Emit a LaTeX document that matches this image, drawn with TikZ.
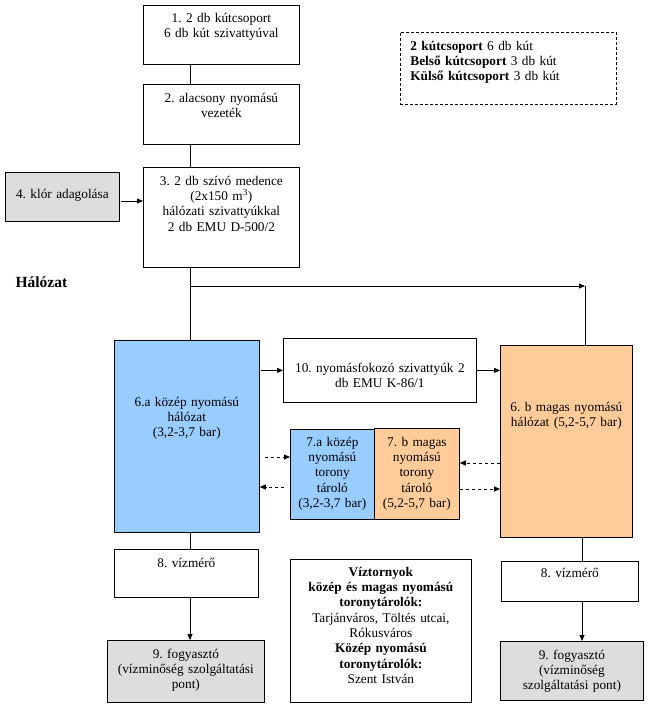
\documentclass[tikz,border=0pt]{standalone}
\usepackage{fontspec}
\setmainfont{Liberation Serif}
\usetikzlibrary{arrows.meta}

\definecolor{kozepkek}{HTML}{99CCFF}
\definecolor{magasnarancs}{HTML}{FFCC99}
\definecolor{fogyszurke}{HTML}{DDDDDD}

\tikzset{
  doboz/.style={draw=black, line width=0.75pt, inner xsep=2pt, inner ysep=0pt, align=center, anchor=north west},
  vonal/.style={color=black!100, line width=0.75pt},
  nyil/.style={vonal, -{Triangle[length=6pt,width=5pt]}},
  szaggatott/.style={nyil, dash pattern=on 3pt off 3pt},
}

\begin{document}
\begin{tikzpicture}[x=1pt, y=-1pt, font=\frenchspacing\fontsize{13.3}{15.3}\selectfont]
                    \useasboundingbox (0,0) rectangle (653,711);

                    \node[doboz, text width=152pt, text height=17pt, text depth=42pt] (b1) at (143,5) {1. 2 db kútcsoport\\6 db kút szivattyúval};
                    \node[doboz, text width=152pt, text height=18pt, text depth=42pt] (b2) at (143,84) {2. alacsony nyomású\\vezeték};
                    \node[doboz, text width=152pt, text height=18pt, text depth=82pt] (b3) at (143,167) {3. 2 db szívó medence\\(2x150 m\textsuperscript{3})\\hálózati szivattyúkkal\\2 db EMU D-500/2};
                    \node[doboz, fill=fogyszurke, text width=110pt, text height=26pt, text depth=23pt] (b4) at (5,172) {4. klór adagolása};
                    \node[doboz, dash pattern=on 3pt off 2pt, align=left, inner xsep=10pt, text width=196pt, text height=18pt, text depth=54pt] (jegyzet) at (400,32) {\textbf{2 kútcsoport} 6 db kút\\\textbf{Belső kútcsoport} 3 db kút\\\textbf{Külső kútcsoport} 3 db kút};
                    \node[anchor=base west, font=\bfseries\fontsize{15.5}{18}\selectfont] (halozat) at (12,287) {Hálózat};

                    \node[doboz, fill=kozepkek, text width=141pt, text height=66pt, text depth=126pt] (m6a) at (114,340) {6.a közép nyomású\\hálózat\\(3,2-3,7 bar)};
                    \node[doboz, text width=189pt, text height=34pt, text depth=30pt] (p10) at (283,338) {10. nyomásfokozó szivattyúk 2\\db EMU K-86/1};
                    \node[doboz, fill=magasnarancs, text width=128pt, text height=66pt, text depth=126pt] (m6b) at (500,345) {6. b magas nyomású\\hálózat (5,2-5,7 bar)};
                    \node[doboz, fill=kozepkek, text width=80pt, text height=17pt, text depth=73pt] (t7a) at (290,429) {7.a közép\\nyomású\\torony\\tároló\\(3,2-3,7 bar)};
                    \node[doboz, fill=magasnarancs, text width=81pt, text height=18pt, text depth=73pt] (t7b) at (374,428) {7. b magas\\nyomású\\torony\\tároló\\(5,2-5,7 bar)};

                    \node[doboz, text width=140pt, text height=18pt, text depth=30pt] (v8a) at (114,549) {8. vízmérő};
                    \node[doboz, fill=fogyszurke, text width=153pt, text height=18pt, text depth=44pt] (f9a) at (107,640) {9. fogyasztó\\(vízminőség szolgáltatási\\pont)};
                    \node[doboz, text width=177pt, text height=17pt, text depth=126pt] (torony) at (290,559) {\textbf{Víztornyok}\\\textbf{közép és magas nyomású}\\\textbf{toronytárolók:}\\Tarjánváros, Töltés utcai,\\Rókusváros\\\textbf{Közép nyomású}\\\textbf{toronytárolók:}\\Szent István};
                    \node[doboz, text width=133pt, text height=16pt, text depth=24pt] (v8b) at (501,561) {8. vízmérő};
                    \node[doboz, fill=fogyszurke, text width=139pt, text height=18pt, text depth=41pt] (f9b) at (500,641) {9. fogyasztó\\(vízminőség\\szolgáltatási pont)};

                    \coordinate (gerinc) at (190,0);
                    \coordinate (gerinc2) at (582,0);
                    \coordinate (elag) at (190,286);
                    \coordinate (fordul) at (585,286);

                    \draw[vonal] (b1.south -| gerinc) -- (b2.north -| gerinc);
                    \draw[vonal] (b2.south -| gerinc) -- (b3.north -| gerinc);
                    \draw[nyil] ([xshift=1pt]b4.east |- 0,201) -- (b3.west |- 0,201);
                    \draw[vonal] (b3.south -| gerinc) -- (m6a.north -| gerinc);
                    \draw[nyil] (elag) -- (fordul);
                    \draw[vonal] (fordul) -- (fordul |- m6b.north);

                    \draw[nyil] ([xshift=1pt]p10.west -| m6a.east) -- (p10.west);
                    \draw[nyil] (p10.east) -- (p10.east -| m6b.west);
                    \draw[szaggatott] ([xshift=5pt]m6a.east |- 0,457) -- (t7a.west |- 0,457);
                    \draw[szaggatott] ([xshift=-6pt]t7a.west |- 0,487) -- (m6a.east |- 0,487);
                    \draw[szaggatott] (m6b.west |- 0,463) -- (t7b.east |- 0,463);
                    \draw[szaggatott] (t7b.east |- 0,489) -- (m6b.west |- 0,489);

                    \draw[vonal] (m6a.south -| gerinc) -- (v8a.north -| gerinc);
                    \draw[nyil] (v8a.south -| gerinc) -- (f9a.north -| gerinc);
                    \draw[vonal] (m6b.south -| gerinc2) -- (v8b.north -| gerinc2);
                    \draw[nyil] (v8b.south -| gerinc2) -- (f9b.north -| gerinc2);
                \end{tikzpicture}
\end{document}
